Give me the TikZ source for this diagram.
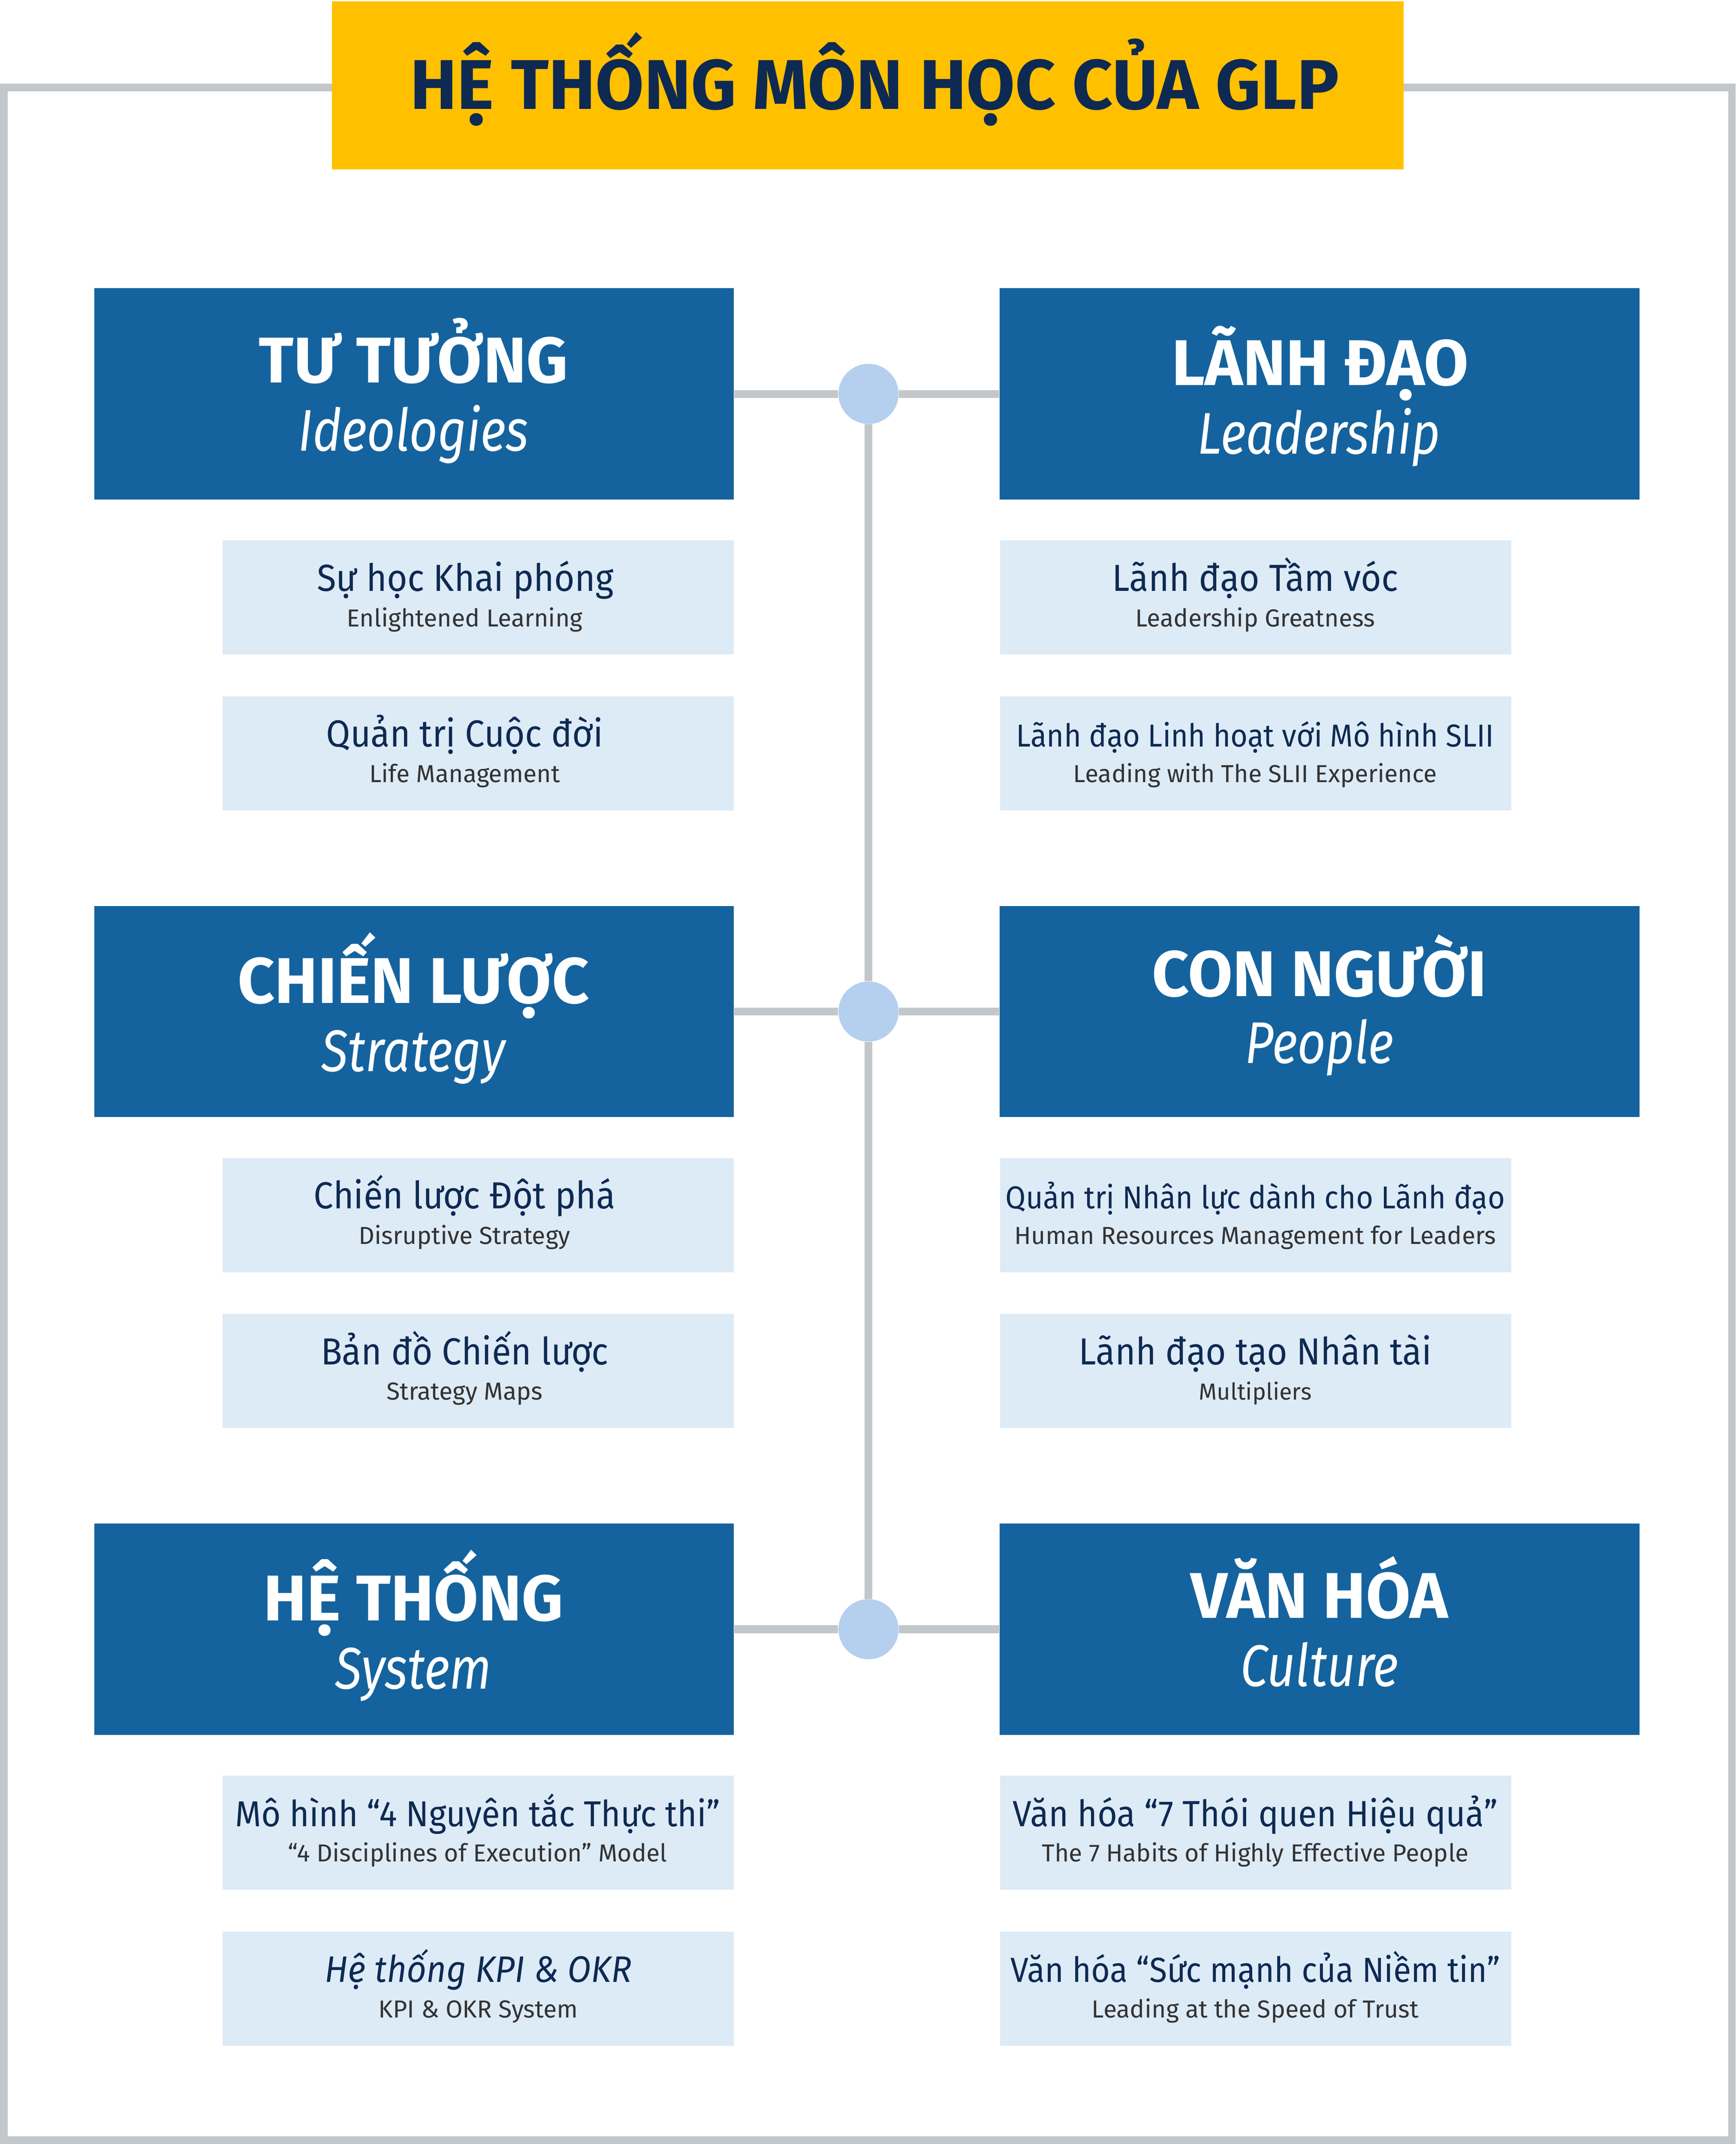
\documentclass[tikz,border=0pt]{standalone}
\usepackage{fontspec}
\setmainfont{Fira Sans}
\newfontfamily\narrowfont{Fira Sans}[FakeStretch=0.93]
\newfontfamily\slimfont{Fira Sans}[FakeStretch=0.84]
\definecolor{gold}{HTML}{FFC000}
\definecolor{navy}{HTML}{0E2A52}
\definecolor{deepblue}{HTML}{14639E}
\definecolor{paleblue}{HTML}{DDEBF7}
\definecolor{linegray}{HTML}{C3C7CA}
\definecolor{hubblue}{HTML}{B5D0EE}
\definecolor{subgray}{HTML}{333333}
\begin{document}
\begin{tikzpicture}[x=1pt,y=-1pt,
  frame/.style={draw=linegray,line width=5.5pt},
  link/.style={draw=linegray,line width=5.7pt},
  hub/.style={circle,fill=hubblue,minimum size=44pt,inner sep=0pt},
  titlebox/.style={fill=gold,minimum width=784pt,minimum height=123pt,inner sep=0pt},
  bluebox/.style={fill=deepblue,minimum width=468pt,minimum height=154.5pt,inner sep=0pt},
  lightbox/.style={fill=paleblue,minimum width=374pt,minimum height=83.5pt,inner sep=0pt},
  titletext/.style={anchor=base,inner sep=0pt,text=navy,font=\bfseries\fontsize{51.5}{52}\selectfont},
  headtext/.style={anchor=base,inner sep=0pt,text=white,font=\bfseries\fontsize{47.3}{48}\selectfont},
  headsub/.style={anchor=base,inner sep=0pt,text=white,font=\slimfont\itshape\fontsize{43}{43}\selectfont},
  maintext/.style={anchor=base,inner sep=0pt,text=navy,font=\narrowfont\fontsize{27.6}{30}\selectfont},
  subtext/.style={anchor=base,inner sep=0pt,text=subgray,font=\fontsize{18}{20}\selectfont}]
\useasboundingbox (0,0) rectangle (1270,1569);
% outer frame
\draw[frame] (2.8,64) rectangle (1267.2,1566.2);
% title
\node[titlebox] (title) at (635,62.5) {};
\node[titletext] (titlelbl) at (640,80) {HỆ THỐNG MÔN HỌC CỦA GLP};
% blue headers
\node[bluebox] (tt) at (303,288.25) {};
\node[bluebox] (ld) at (965.5,288.25) {};
\node[bluebox] (cl) at (303,740.25) {};
\node[bluebox] (cn) at (965.5,740.25) {};
\node[bluebox] (ht) at (303,1192.25) {};
\node[bluebox] (vh) at (965.5,1192.25) {};
\node[headtext] at (302.5,280) {TƯ TƯỞNG};
\node[headsub] at (302.5,330) {Ideologies};
\node[headtext] at (966,282) {LÃNH ĐẠO};
\node[headsub] at (965,332) {Leadership};
\node[headtext] at (302.5,734) {CHIẾN LƯỢC};
\node[headsub] at (302.5,784) {Strategy};
\node[headtext] at (965.5,729) {CON NGƯỜI};
\node[headsub] at (965.5,778) {People};
\node[headtext] at (302.5,1186) {HỆ THỐNG};
\node[headsub] at (302.5,1236) {System};
\node[headtext] at (965.5,1184) {VĂN HÓA};
\node[headsub] at (965.5,1234) {Culture};
% hubs and links
\node[hub] (hubA) at (635.5,288.25) {};
\node[hub] (hubB) at (635.5,740.25) {};
\node[hub] (hubC) at (635.5,1192.25) {};
\draw[link] (tt) -- (hubA);
\draw[link] (hubA) -- (ld);
\draw[link] (cl) -- (hubB);
\draw[link] (hubB) -- (cn);
\draw[link] (ht) -- (hubC);
\draw[link] (hubC) -- (vh);
\draw[link] (hubA) -- (hubB);
\draw[link] (hubB) -- (hubC);
% course boxes, left
\node[lightbox] (tt1) at (350,437.25) {};
\node[lightbox] (tt2) at (350,551.25) {};
\node[lightbox] (cl1) at (350,889.25) {};
\node[lightbox] (cl2) at (350,1003.25) {};
\node[lightbox] (ht1) at (350,1341.25) {};
\node[lightbox] (ht2) at (350,1455.25) {};
\node[maintext] at (340.5,432.5) {Sự học Khai phóng};
\node[subtext] at (340,458.5) {Enlightened Learning};
\node[maintext] at (340,546.5) {Quản trị Cuộc đời};
\node[subtext] at (340,572.5) {Life Management};
\node[maintext] at (340,884.5) {Chiến lược Đột phá};
\node[subtext] at (340,910.5) {Disruptive Strategy};
\node[maintext] at (340,998.5) {Bản đồ Chiến lược};
\node[subtext] at (340,1024.5) {Strategy Maps};
\node[maintext,font=\narrowfont\fontsize{26.4}{30}\selectfont] at (349.5,1336.5) {Mô hình “4 Nguyên tắc Thực thi”};
\node[subtext] at (349.5,1362.5) {“4 Disciplines of Execution” Model};
\node[maintext,font=\narrowfont\itshape\fontsize{27}{30}\selectfont] at (350,1450.5) {Hệ thống KPI \& OKR};
\node[subtext] at (350,1476.5) {KPI \& OKR System};
% course boxes, right
\node[lightbox] (ld1) at (918.8,437.25) {};
\node[lightbox] (ld2) at (918.8,551.25) {};
\node[lightbox] (cn1) at (918.8,889.25) {};
\node[lightbox] (cn2) at (918.8,1003.25) {};
\node[lightbox] (vh1) at (918.8,1341.25) {};
\node[lightbox] (vh2) at (918.8,1455.25) {};
\node[maintext] at (918.5,432.5) {Lãnh đạo Tầm vóc};
\node[subtext] at (918.5,458.5) {Leadership Greatness};
\node[maintext,font=\narrowfont\fontsize{23.2}{30}\selectfont] at (918.5,546.5) {Lãnh đạo Linh hoạt với Mô hình SLII};
\node[subtext] at (918.5,572.5) {Leading with The SLII Experience};
\node[maintext,font=\narrowfont\fontsize{23.2}{30}\selectfont] at (918.5,884.5) {Quản trị Nhân lực dành cho Lãnh đạo};
\node[subtext] at (918.5,910.5) {Human Resources Management for Leaders};
\node[maintext] at (918.5,998.5) {Lãnh đạo tạo Nhân tài};
\node[subtext,font=\fontsize{17}{20}\selectfont] at (918.5,1024.5) {Multipliers};
\node[maintext,font=\narrowfont\fontsize{26.7}{30}\selectfont] at (918.5,1336.5) {Văn hóa “7 Thói quen Hiệu quả”};
\node[subtext] at (918.5,1362.5) {The 7 Habits of Highly Effective People};
\node[maintext,font=\narrowfont\fontsize{25.5}{30}\selectfont] at (918.5,1450.5) {Văn hóa “Sức mạnh của Niềm tin”};
\node[subtext] at (918.5,1476.5) {Leading at the Speed of Trust};
\end{tikzpicture}
\end{document}
